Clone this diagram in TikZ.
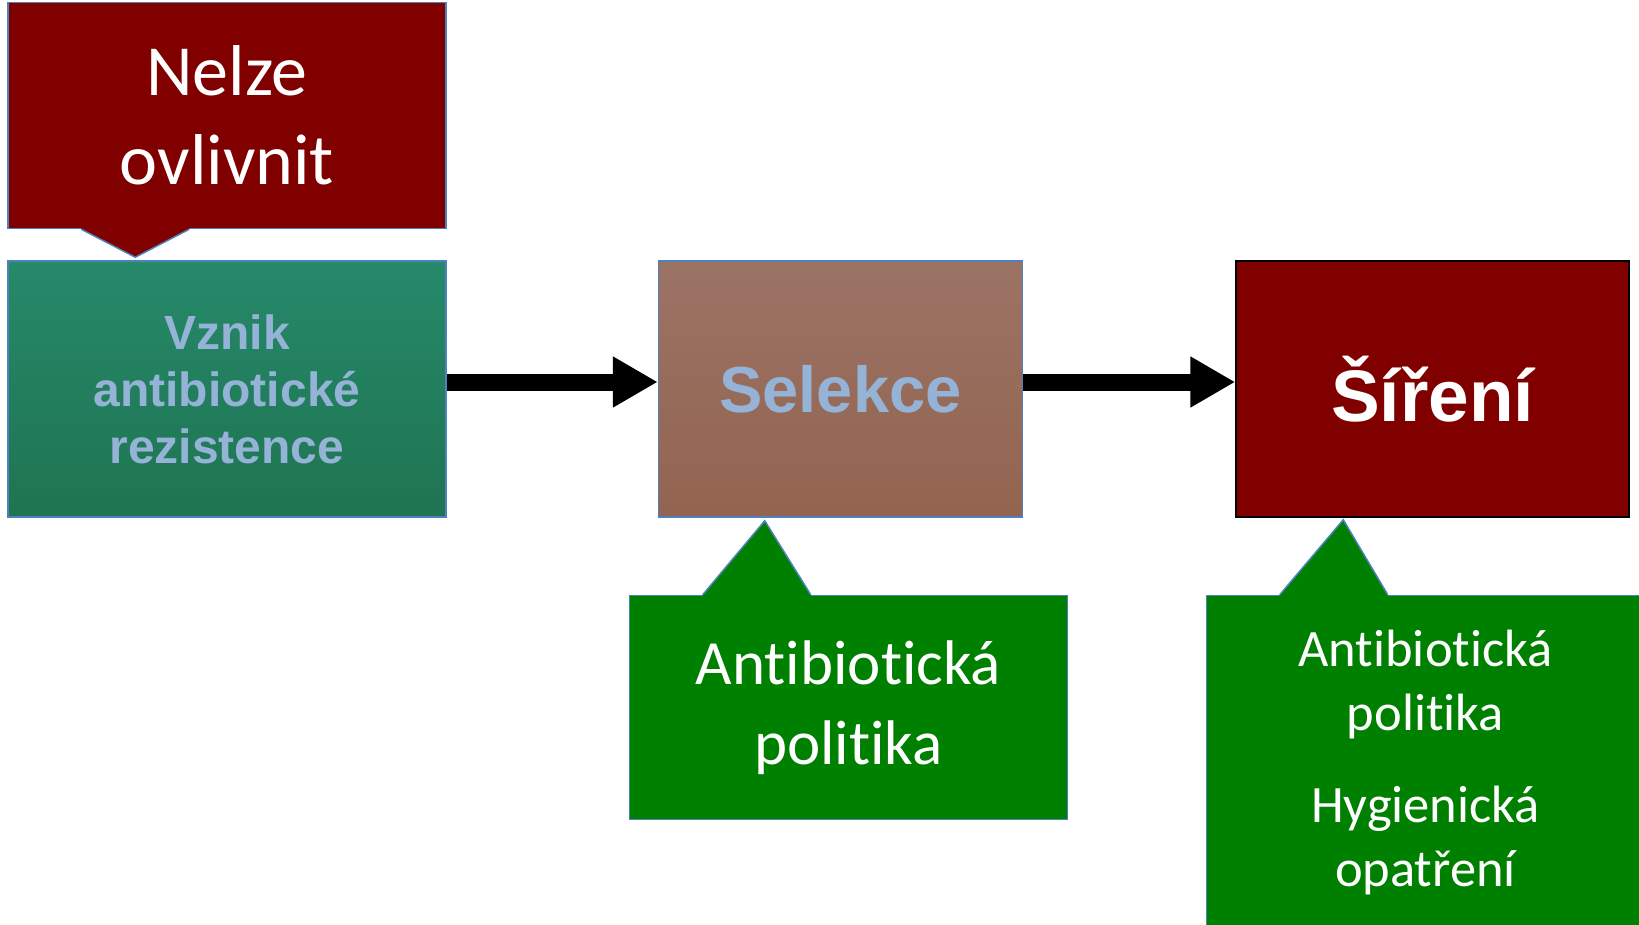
\documentclass[tikz,border=0pt]{standalone}
\usepackage{fontspec}
\setmainfont{Carlito}[Ligatures=NoCommon]
\newfontfamily\arialfont{Liberation Sans}
\usetikzlibrary{positioning}
\usetikzlibrary{arrows.meta}
\definecolor{darkred}{HTML}{800000}
\definecolor{notegreen}{HTML}{008000}
\definecolor{edgeblue}{HTML}{4F81BD}
\definecolor{paleblue}{HTML}{95B3D7}
\definecolor{vzniktop}{HTML}{25896A}
\definecolor{vznikbot}{HTML}{1F7451}
\definecolor{seltop}{HTML}{9B7365}
\definecolor{selbot}{HTML}{936450}

\begin{document}
\begin{tikzpicture}[x=1pt,y=-1pt
                   ,box/.style={draw=edgeblue,line width=1.5pt,minimum height=256pt,inner sep=0pt,align=center}
                   ,note/.style={draw=edgeblue,line width=1.5pt,fill=notegreen,text=white,inner sep=0pt,align=center,minimum width=438pt}
                   ,flow/.style={line width=17pt,-{Triangle[length=45pt,width=48pt]}}]
  \useasboundingbox (0,0) rectangle (1639,924);
  % main chain
  \node[box,minimum width=438pt,top color=vzniktop,bottom color=vznikbot,text=paleblue
       ,font=\arialfont\bfseries\fontsize{48}{57}\selectfont] (vznik) at (227,389)
       {Vznik\\antibiotické\\rezistence};
  \node[box,minimum width=364pt,top color=seltop,bottom color=selbot,text=paleblue
       ,font=\arialfont\bfseries\fontsize{65}{78}\selectfont,right=211pt of vznik] (sel) {Selekce};
  \node[box,draw=black,fill=darkred,minimum width=393pt,text=white
       ,font=\arialfont\bfseries\fontsize{73}{86}\selectfont,right=212pt of sel] (sir) {Šíření};
  \path[flow]
    ([yshift=7pt]vznik.east) edge ([yshift=7pt]sel.west)
    ([yshift=7pt]sel.east) edge ([yshift=7pt]sir.west)
    ;
  % notes
  \node[note,fill=darkred,minimum height=226pt,font=\fontsize{72}{89}\selectfont
       ,above=31pt of vznik] (nelze) {Nelze\\ovlivnit};
  \node[note,minimum height=224pt,font=\fontsize{63}{80}\selectfont
       ,below=77pt of sel,xshift=8pt] (pol1) {Antibiotická\\politika};
  \node[note,minimum height=334pt,font=\fontsize{52.5}{64}\selectfont
       ,below=77pt of sir,xshift=-7pt] (pol2) {Antibiotická\\politika\\[28pt]Hygienická\\opatření};
  \coordinate (tip0) at ([xshift=128pt,yshift=-28pt]nelze.south west);
  \coordinate (tip1) at ([xshift=107pt,yshift=-3pt]sel.south west);
  \coordinate (tip2) at ([xshift=108pt,yshift=-2pt]sir.south west);
  \foreach \n/\s/\t/\d/\c in {nelze/south/tip0/1/darkred,pol1/north/tip1/-1/notegreen,pol2/north/tip2/-1/notegreen}
  {
    \fill[\c] ([xshift=74pt,yshift=\d*3pt]\n.\s\space west) -- ([xshift=74pt]\n.\s\space west)
      -- (\t) -- ([xshift=182pt]\n.\s\space west) -- ([xshift=182pt,yshift=\d*3pt]\n.\s\space west) -- cycle;
    \draw[edgeblue,line width=1.5pt] ([xshift=74pt]\n.\s\space west) -- (\t) -- ([xshift=182pt]\n.\s\space west);
  }
\end{tikzpicture}
\end{document}
